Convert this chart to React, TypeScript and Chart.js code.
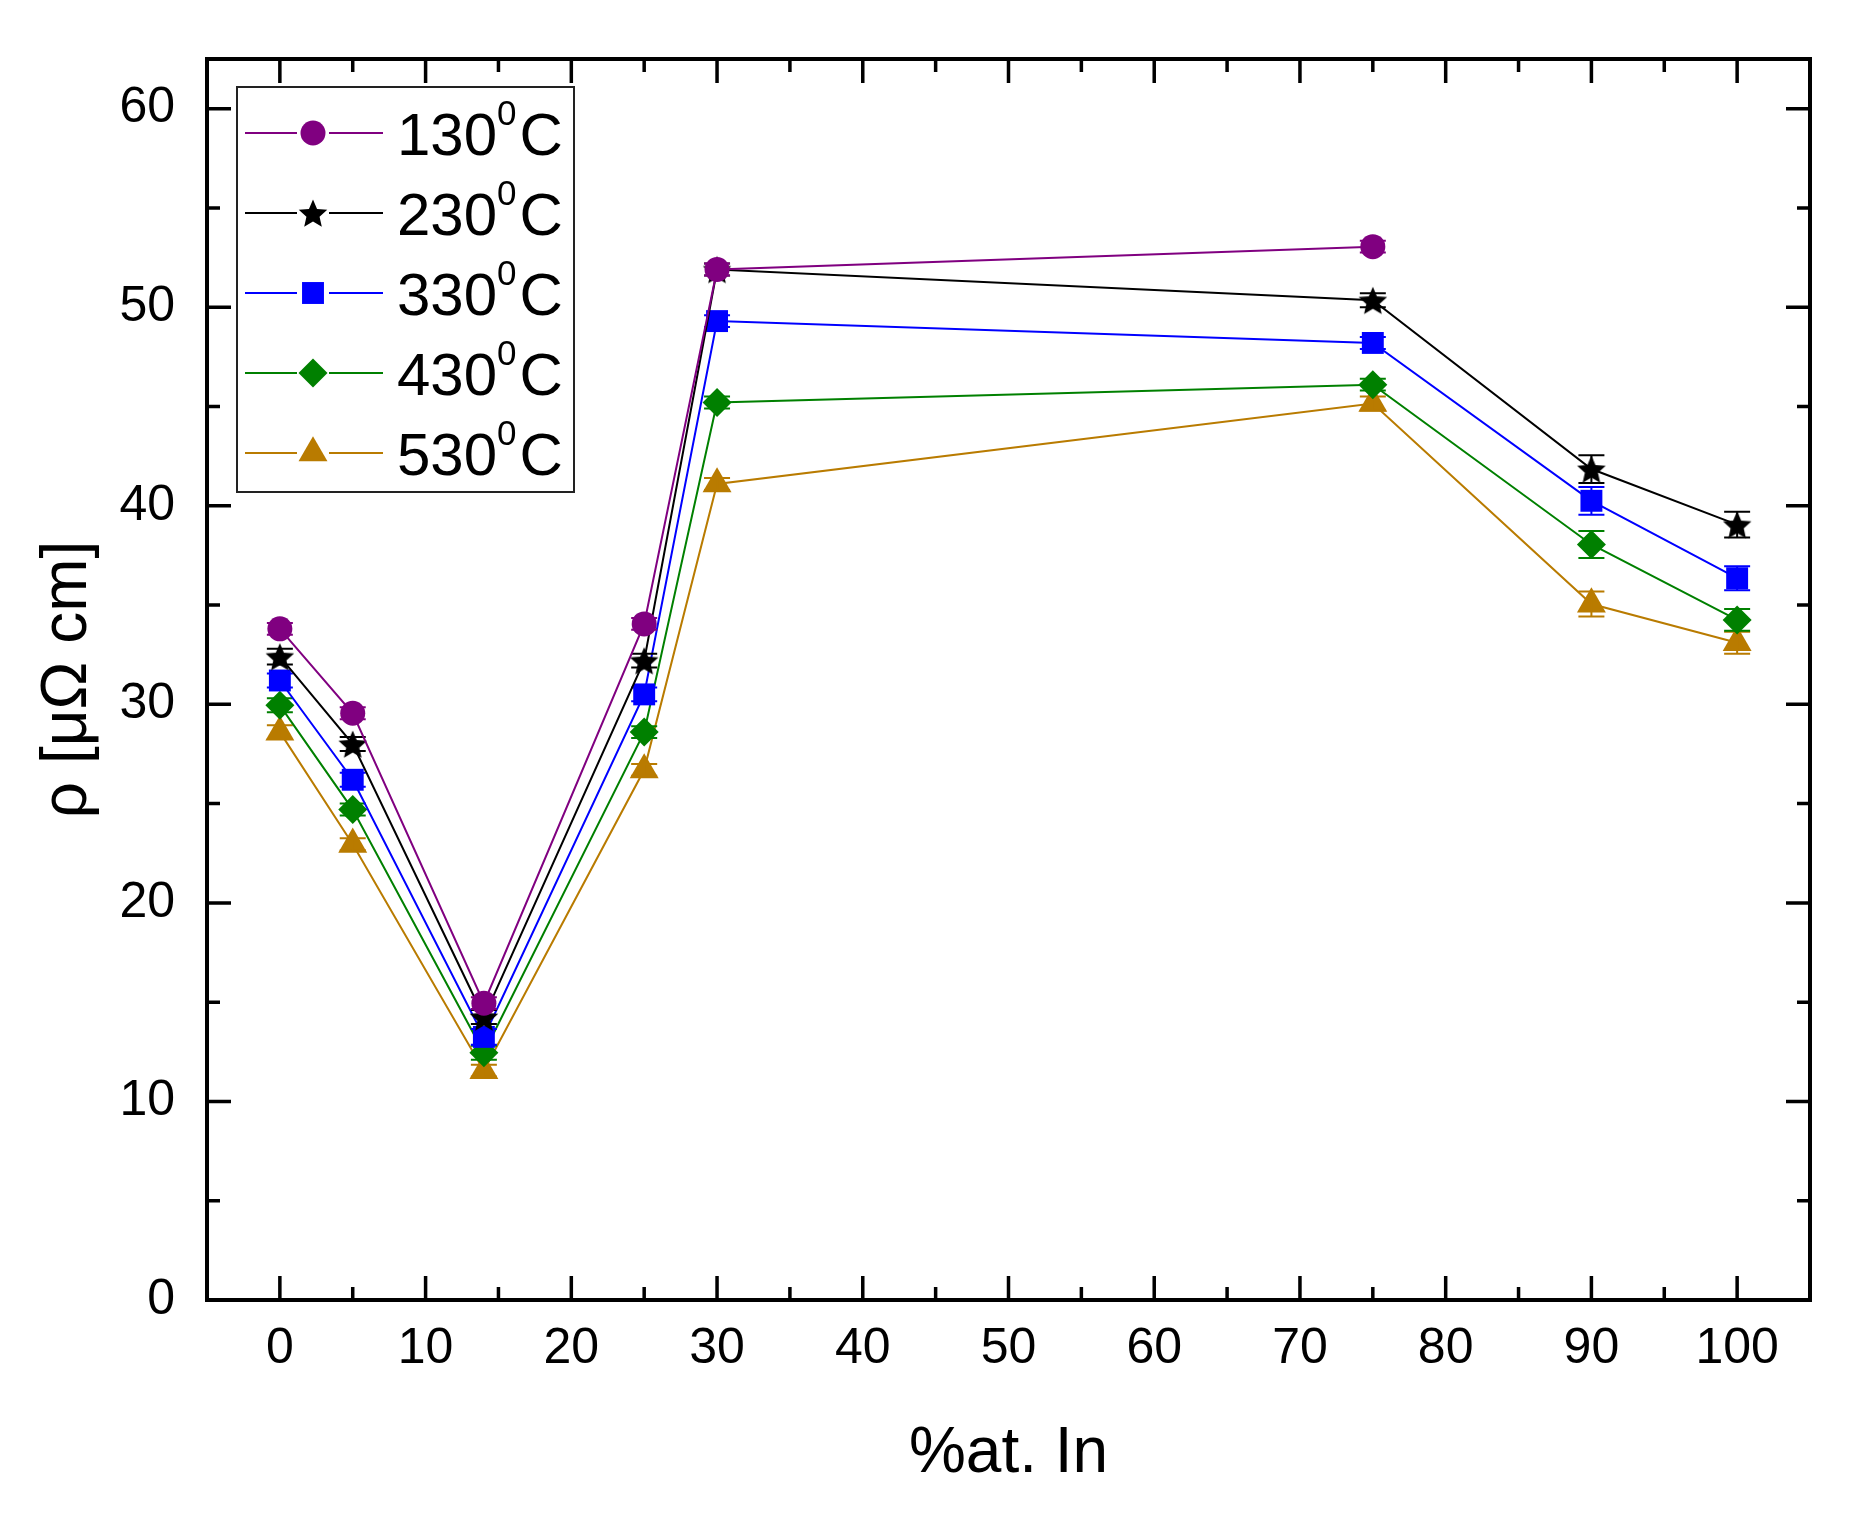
import { useEffect, useRef } from 'react';
import { Chart, registerables } from 'chart.js';

Chart.register(...registerables);

// %at. In on the x axis
const AT_IN = [0, 5, 14, 25, 30, 75, 90, 100];

// annealing temperatures (legend)
const TEMPS = ['130', '230', '330', '430', '530'];

// resistivity, µΩ cm
const RHO_130 = [33.8, 29.55, 14.95, 34.05, 51.9, 53.05, null, null];
const RHO_230 = [32.4, 28.0, 14.25, 32.2, 51.9, 50.35, 41.85, 39.05];
const RHO_330 = [31.2, 26.2, 13.25, 30.5, 49.3, 48.2, 40.25, 36.35];
const RHO_430 = [29.95, 24.7, 12.45, 28.6, 45.2, 46.1, 38.05, 34.25];
const RHO_530 = [28.6, 22.95, 11.55, 26.7, 41.1, 45.15, 35.05, 33.1];

// error bars (half height)
const ERR_130 = [0.3, 0.3, 0.3, 0.3, 0.3, 0.3, null, null];
const ERR_230 = [0.4, 0.35, 0.35, 0.35, 0.3, 0.35, 0.7, 0.65];
const ERR_330 = [0.35, 0.35, 0.4, 0.35, 0.3, 0.3, 0.7, 0.6];
const ERR_430 = [0.35, 0.3, 0.35, 0.3, 0.3, 0.3, 0.68, 0.55];
const ERR_530 = [0.35, 0.3, 0.3, 0.3, 0.3, 0.35, 0.63, 0.55];

const X_MAJOR = [0, 10, 20, 30, 40, 50, 60, 70, 80, 90, 100];
const X_MINOR = [5, 15, 25, 35, 45, 55, 65, 75, 85, 95];
const Y_MAJOR = [0, 10, 20, 30, 40, 50, 60];
const Y_MINOR = [5, 15, 25, 35, 45, 55];

const FONT = '"Liberation Sans", Arial, sans-serif';
const COLORS = ['#800080', '#000000', '#0000FF', '#008000', '#B97B00'];
const SHAPES = ['circle', 'star', 'rect', 'rectRot', 'triangle'];
const RADII = [12.5, 15, 15.5, 14.5, 16.7];

function makeStar(r: number, color: string) {
  const size = Math.ceil(r * 2) + 2;
  const c = document.createElement('canvas');
  c.width = size;
  c.height = size;
  const ctx = c.getContext('2d')!;
  ctx.fillStyle = color;
  ctx.beginPath();
  for (let i = 0; i < 10; i++) {
    const rad = i % 2 === 0 ? r : r * 0.46;
    const a = -Math.PI / 2 + (i * Math.PI) / 5;
    const px = size / 2 + rad * Math.cos(a);
    const py = size / 2 + 1.5 + rad * Math.sin(a);
    if (i === 0) ctx.moveTo(px, py);
    else ctx.lineTo(px, py);
  }
  ctx.closePath();
  ctx.fill();
  return c;
}

function drawMarker(ctx: CanvasRenderingContext2D, shape: any, x: number, y: number, r: number, color: string) {
  ctx.save();
  ctx.fillStyle = color;
  ctx.beginPath();
  if (shape instanceof HTMLCanvasElement) {
    ctx.drawImage(shape, x - shape.width / 2, y - shape.height / 2);
    ctx.restore();
    return;
  }
  if (shape === 'circle') {
    ctx.arc(x, y, r, 0, Math.PI * 2);
  } else if (shape === 'rect') {
    const s = Math.SQRT1_2 * r;
    ctx.rect(x - s, y - s, 2 * s, 2 * s);
  } else if (shape === 'rectRot') {
    ctx.moveTo(x - r, y);
    ctx.lineTo(x, y - r);
    ctx.lineTo(x + r, y);
    ctx.lineTo(x, y + r);
    ctx.closePath();
  } else if (shape === 'triangle') {
    ctx.moveTo(x, y - r);
    ctx.lineTo(x + r * Math.sin(Math.PI / 3), y + r / 2);
    ctx.lineTo(x - r * Math.sin(Math.PI / 3), y + r / 2);
    ctx.closePath();
  }
  ctx.fill();
  ctx.restore();
}

const errorBars = {
  id: 'errorBars',
  afterDatasetDraw(chart: any, args: any) {
    const ds = chart.data.datasets[args.index];
    const y = chart.scales.y;
    const ctx = chart.ctx;
    ctx.save();
    ctx.strokeStyle = ds.borderColor;
    ctx.lineWidth = 2;
    args.meta.data.forEach((pt: any, i: number) => {
      const raw = ds.data[i];
      const top = y.getPixelForValue(raw.y + raw.e);
      const bot = y.getPixelForValue(raw.y - raw.e);
      ctx.beginPath();
      ctx.moveTo(pt.x, top);
      ctx.lineTo(pt.x, bot);
      ctx.moveTo(pt.x - 13, top);
      ctx.lineTo(pt.x + 13, top);
      ctx.moveTo(pt.x - 13, bot);
      ctx.lineTo(pt.x + 13, bot);
      ctx.stroke();
    });
    ctx.restore();
  },
};

// box + inward ticks on all four sides, Origin style
const frame = {
  id: 'frame',
  afterDraw(chart: any) {
    const { ctx, chartArea: a, scales } = chart;
    ctx.save();
    ctx.strokeStyle = '#000';
    ctx.lineWidth = 3.5;
    ctx.beginPath();
    const xt = (vals: number[], len: number) =>
      vals.forEach((v) => {
        const px = scales.x.getPixelForValue(v);
        ctx.moveTo(px, a.bottom);
        ctx.lineTo(px, a.bottom - len);
        ctx.moveTo(px, a.top);
        ctx.lineTo(px, a.top + len);
      });
    const yt = (vals: number[], len: number) =>
      vals.forEach((v) => {
        const py = scales.y.getPixelForValue(v);
        ctx.moveTo(a.left, py);
        ctx.lineTo(a.left + len, py);
        ctx.moveTo(a.right, py);
        ctx.lineTo(a.right - len, py);
      });
    xt(X_MAJOR, 24);
    xt(X_MINOR, 13);
    yt(Y_MAJOR, 24);
    yt(Y_MINOR, 13);
    ctx.stroke();
    ctx.lineWidth = 4;
    ctx.strokeRect(a.left, a.top, a.right - a.left, a.bottom - a.top);
    ctx.restore();
  },
};

const legendBox = {
  id: 'legendBox',
  afterDraw(chart: any) {
    const ctx = chart.ctx;
    ctx.save();
    ctx.fillStyle = '#fff';
    ctx.fillRect(237, 87, 337, 405);
    ctx.strokeStyle = '#222';
    ctx.lineWidth = 2;
    ctx.strokeRect(237, 87, 337, 405);
    chart.data.datasets.forEach((ds: any, i: number) => {
      const rowY = 133 + i * 80;
      ctx.strokeStyle = ds.borderColor;
      ctx.lineWidth = 2;
      ctx.beginPath();
      ctx.moveTo(245, rowY);
      ctx.lineTo(297, rowY);
      ctx.moveTo(329, rowY);
      ctx.lineTo(383, rowY);
      ctx.stroke();
      drawMarker(ctx, ds.pointStyle, 313, rowY, ds.pointRadius, ds.backgroundColor);
      const base = rowY + 22;
      ctx.fillStyle = '#000';
      ctx.textBaseline = 'alphabetic';
      ctx.textAlign = 'left';
      ctx.font = `60px ${FONT}`;
      let x = 397;
      ctx.fillText(TEMPS[i], x, base);
      x += ctx.measureText(TEMPS[i]).width;
      ctx.font = `35px ${FONT}`;
      ctx.fillText('0', x, base - 30);
      x += ctx.measureText('0').width + 3;
      ctx.font = `60px ${FONT}`;
      ctx.fillText('C', x, base);
    });
    ctx.restore();
  },
};

export default function App() {
  const ref = useRef<HTMLCanvasElement>(null);
  const chartRef = useRef<Chart | null>(null);

  useEffect(() => {
    document.body.style.margin = '0';
    if (!ref.current) return;
    if (chartRef.current) {
      chartRef.current.destroy();
      chartRef.current = null;
    }
    const series = [RHO_130, RHO_230, RHO_330, RHO_430, RHO_530];
    const errs = [ERR_130, ERR_230, ERR_330, ERR_430, ERR_530];
    const datasets = series.map((vals, i) => ({
      label: TEMPS[i] + '0C',
      data: AT_IN.map((x, j) => ({ x, y: vals[j], e: errs[i][j] })).filter((p) => p.y !== null),
      borderColor: COLORS[i],
      backgroundColor: COLORS[i],
      borderWidth: 2,
      pointStyle: SHAPES[i] === 'star' ? makeStar(RADII[i], COLORS[i]) : SHAPES[i],
      pointRadius: RADII[i],
      pointBorderWidth: 0,
      pointHoverRadius: RADII[i],
      tension: 0,
    }));

    chartRef.current = new Chart(ref.current, {
      type: 'line',
      data: { datasets: datasets as any },
      plugins: [errorBars, frame, legendBox],
      options: {
        animation: false,
        responsive: true,
        maintainAspectRatio: false,
        layout: { padding: { left: 0, top: 59, right: 61, bottom: 0 } },
        plugins: { legend: { display: false }, tooltip: { enabled: false } },
        scales: {
          x: {
            type: 'linear',
            min: -5,
            max: 105,
            afterBuildTicks: (s: any) => {
              s.ticks = X_MAJOR.map((v) => ({ value: v }));
            },
            afterFit: (s: any) => {
              s.height = 220;
            },
            grid: { display: false, drawTicks: false },
            border: { display: false },
            ticks: {
              color: '#000',
              font: { family: FONT, size: 50, lineHeight: 1 },
              padding: 24,
              maxRotation: 0,
              autoSkip: false,
            },
            title: {
              display: true,
              text: '%at. In',
              color: '#000',
              font: { family: FONT, size: 64, lineHeight: 1 },
              padding: { top: 0, bottom: 34 },
            },
          },
          y: {
            min: 0,
            max: 62.5,
            afterBuildTicks: (s: any) => {
              s.ticks = Y_MAJOR.map((v) => ({ value: v }));
            },
            afterFit: (s: any) => {
              s.width = 207;
            },
            grid: { display: false, drawTicks: false },
            border: { display: false },
            ticks: {
              color: '#000',
              font: { family: FONT, size: 50, lineHeight: 1 },
              padding: 32,
              autoSkip: false,
            },
            title: {
              display: true,
              text: 'ρ [μΩ cm]',
              color: '#000',
              font: { family: FONT, size: 64, lineHeight: 1 },
              padding: { top: 36, bottom: 0 },
            },
          },
        },
      } as any,
    });
    return () => {
      chartRef.current?.destroy();
      chartRef.current = null;
    };
  }, []);

  return (
    <div style={{ width: 1871, height: 1520, position: 'relative', background: '#fff' }}>
      <canvas ref={ref} />
    </div>
  );
}
